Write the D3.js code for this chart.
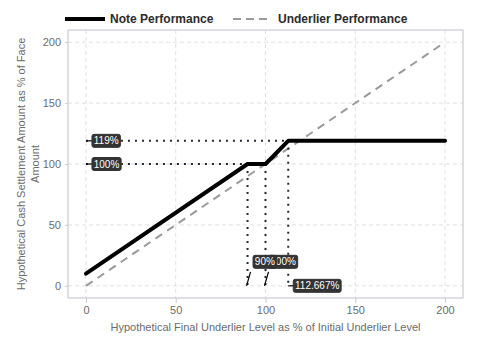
<!DOCTYPE html>
<html><head><meta charset="utf-8">
<script src="https://cdn.jsdelivr.net/npm/d3@7"></script>
<style>body{margin:0;background:#fff}svg{font-family:"Liberation Sans",Arial,sans-serif}</style>
</head><body><svg id="c" width="480" height="360"></svg>
<script>
const notePoints = [[0,10],[90,100],[100,100],[112.667,119],[200,119]];
const underlierPoints = [[0,0],[200,200]];
const xTicks = [0,50,100,150,200];
const yTicks = [0,50,100,150,200];
const hLevels = [{y:119, xEnd:112.667, label:"119%"},{y:100, xEnd:90, label:"100%"}];
const vLevels = [{x:90, yTop:100, label:"90%"},{x:100, yTop:100, label:"100%"},{x:112.667, yTop:119, label:"112.667%"}];
const seriesNames = ["Note Performance","Underlier Performance"];

const svg = d3.select("#c");
const L=68,R=463,T=30,B=298;
const x = d3.scaleLinear().domain([-10,210]).range([L,R]);
const y = d3.scaleLinear().domain([-10,210]).range([B,T]);

// grid
const g = svg.append("g");
g.selectAll(".gx").data(xTicks).join("line").attr("x1",d=>x(d)).attr("x2",d=>x(d)).attr("y1",T).attr("y2",B)
 .attr("stroke","#e0e0e0").attr("stroke-dasharray","4,3");
g.selectAll(".gy").data(yTicks).join("line").attr("y1",d=>y(d)).attr("y2",d=>y(d)).attr("x1",L).attr("x2",R)
 .attr("stroke","#e0e0e0").attr("stroke-dasharray","4,3");

// axes
const xa = svg.append("g").attr("transform",`translate(0,${B})`).call(d3.axisBottom(x).tickValues(xTicks).tickSize(5).tickPadding(3));
const ya = svg.append("g").attr("transform",`translate(${L},0)`).call(d3.axisLeft(y).tickValues(yTicks).tickSize(3).tickPadding(4));
[xa,ya].forEach(a=>{a.select(".domain").remove();a.selectAll("line").attr("stroke","#c8ccd4");
  a.selectAll("text").attr("fill","#6b6b6b").style("font-size","11px").style("font-family","Liberation Sans, Arial, sans-serif");});

// panel border
svg.append("rect").attr("x",L).attr("y",T).attr("width",R-L).attr("height",B-T).attr("fill","none").attr("stroke","#c8ccd4").attr("stroke-width",1.2);

// titles
svg.append("text").attr("x",(L+R)/2).attr("y",331).attr("text-anchor","middle").attr("fill","#6b6b6b").style("font-size","11px")
 .text("Hypothetical Final Underlier Level as % of Initial Underlier Level");
const yt = svg.append("text").attr("transform",`translate(25,${(T+B)/2}) rotate(-90)`).attr("text-anchor","middle").attr("fill","#6b6b6b").style("font-size","11px");
yt.append("tspan").attr("x",0).attr("dy",0).text("Hypothetical Cash Settlement Amount as % of Face");
yt.append("tspan").attr("x",0).attr("dy",14).text("Amount");

const line = d3.line().x(d=>x(d[0])).y(d=>y(d[1]));
// underlier
svg.append("path").attr("d",line(underlierPoints)).attr("fill","none").attr("stroke","#9a9a9a").attr("stroke-width",2).attr("stroke-dasharray","8,6");

// dotted reference lines
const dot = {stroke:"#232838","stroke-width":2,"stroke-dasharray":"2,5"};
hLevels.forEach(h=>{
  const l=svg.append("line").attr("x1",x(0)).attr("x2",x(h.xEnd)).attr("y1",y(h.y)).attr("y2",y(h.y));
  Object.entries(dot).forEach(([k,v])=>l.attr(k,v));
});
vLevels.forEach(v=>{
  const l=svg.append("line").attr("x1",x(v.x)).attr("x2",x(v.x)).attr("y1",y(v.yTop)).attr("y2",y(0));
  Object.entries(dot).forEach(([k,vv])=>l.attr(k,vv));
});

// note line
svg.append("path").attr("d",line(notePoints)).attr("fill","none").attr("stroke","#000").attr("stroke-width",4).attr("stroke-linejoin","round").attr("stroke-linecap","round");

function box(left,cy,text){
  const gg = svg.append("g");
  const r = gg.append("rect");
  const t = gg.append("text").attr("fill","#fff").style("font-size","10px").attr("dominant-baseline","central").text(text);
  const w = t.node().getComputedTextLength();
  t.attr("x",left+1.8).attr("y",cy);
  r.attr("x",left).attr("y",cy-6.5).attr("width",w+3.6).attr("height",13).attr("rx",2).attr("fill","#333").attr("stroke","#333");
  return w+3.6;
}
// left labels for horizontal levels
hLevels.forEach(h=>{
  svg.append("line").attr("x1",x(0)).attr("x2",x(0)+6).attr("y1",y(h.y)).attr("y2",y(h.y)).attr("stroke","#000").attr("stroke-width",1.2);
  box(x(0)+6,y(h.y),h.label);
});
// bottom labels
const v90=vLevels[0], v100=vLevels[1], v112=vLevels[2];
svg.append("line").attr("x1",x(v90.x)-1).attr("y1",y(0)).attr("x2",x(v90.x)+3).attr("y2",y(0)-14).attr("stroke","#000").attr("stroke-width",1.2);
svg.append("line").attr("x1",x(v100.x)-1).attr("y1",y(0)).attr("x2",x(v100.x)+3).attr("y2",y(0)-14).attr("stroke","#000").attr("stroke-width",1.2);
box(x(v100.x)+3,y(0)-24,v100.label);
box(x(v90.x)+5.5,y(0)-24,v90.label);
svg.append("line").attr("x1",x(v112.x)).attr("x2",x(v112.x)+6).attr("y1",y(0)).attr("y2",y(0)).attr("stroke","#000").attr("stroke-width",1.2);
box(x(v112.x)+5,y(0),v112.label);

// legend
const lg = svg.append("g");
lg.append("line").attr("x1",65).attr("x2",105).attr("y1",19).attr("y2",19).attr("stroke","#000").attr("stroke-width",4);
lg.append("text").attr("x",110).attr("y",19).attr("dominant-baseline","central").attr("fill","#2b2b2b").style("font-size","12px").style("font-weight","bold").text(seriesNames[0]);
lg.append("line").attr("x1",233).attr("x2",270).attr("y1",19).attr("y2",19).attr("stroke","#9a9a9a").attr("stroke-width",2).attr("stroke-dasharray","8,5");
lg.append("text").attr("x",278).attr("y",19).attr("dominant-baseline","central").attr("fill","#2b2b2b").style("font-size","12px").style("font-weight","bold").text(seriesNames[1]);
</script></body></html>
